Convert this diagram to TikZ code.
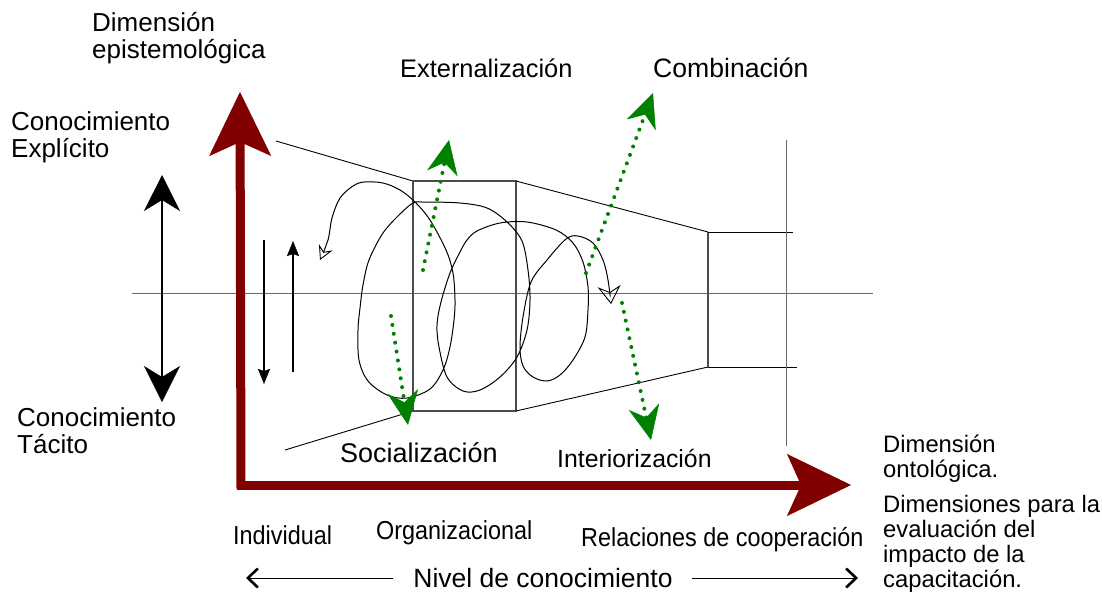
\documentclass[tikz,border=0pt]{standalone}
\usepackage{fontspec}
\setmainfont{Liberation Sans}
\newfontfamily\narrowfnt{Liberation Sans}[FakeStretch=0.9]
\usetikzlibrary{arrows.meta}
\definecolor{darkred}{RGB}{128,0,0}
\definecolor{dgreen}{RGB}{0,128,0}
\definecolor{axisgray}{RGB}{105,105,105}
\begin{document}
\begin{tikzpicture}[x=1pt,y=-1pt,
  redaxis/.style={draw=darkred, line width=9pt, -{Stealth[length=64pt,width=62pt,inset=14pt,line width=0.5pt]}},
  greenflow/.style={draw=dgreen, line width=4pt, line cap=round, dash pattern=on 0pt off 9pt,
     -{Stealth[length=34pt,width=31pt,inset=11pt,line width=0.5pt]}},
  bigdouble/.style={draw=black, line width=2pt, {Stealth[length=36pt,width=36pt,inset=11pt,line width=0.5pt]}-{Stealth[length=36pt,width=36pt,inset=11pt,line width=0.5pt]}},
  smallarrow/.style={draw=black, line width=1.6pt, -{Stealth[length=15pt,width=12pt,inset=2pt,line width=0.5pt]}},
  thinline/.style={draw=black, line width=0.9pt},
  boxline/.style={draw=black!70, line width=1.3pt},
  axisline/.style={draw=axisgray, line width=0.8pt},
  spiral/.style={draw=black, line width=1pt, line join=round,
     {Stealth[open,length=14pt,width=15pt,inset=5pt,line width=0.9pt]}-{Stealth[open,length=18pt,width=23pt,inset=6pt,line width=0.9pt]}},
  levelarrow/.style={draw=black, line width=1pt, -{Straight Barb[length=10pt,width=19pt,line width=2.6pt]}},
  bigtxt/.style={inner sep=0pt, anchor=base west, align=left, font=\fontsize{26}{27}\selectfont},
  midtxt/.style={inner sep=0pt, anchor=base west},
  sidetxt/.style={inner sep=0pt, anchor=base west, align=left, font=\fontsize{23.8}{25}\selectfont},
  nartxt/.style={inner sep=0pt, anchor=base west, font=\narrowfnt\fontsize{26}{27}\selectfont},
]
\useasboundingbox (0,0) rectangle (1102,595);

% coordinates
\coordinate (hl) at (132,293.5);
\coordinate (hr) at (873,293.5);
\coordinate (ul1) at (276,141);
\coordinate (b1tl) at (413,181);
\coordinate (b1tr) at (516,181);
\coordinate (b1bl) at (413,411);
\coordinate (b1br) at (516,411);
\coordinate (ll1) at (285,450);
\coordinate (b2tl) at (708,232);
\coordinate (b2bl) at (708,367);
\coordinate (b2tr) at (793,232);
\coordinate (b2br) at (797,367);
\coordinate (vt) at (786,140);
\coordinate (vb) at (786,446);

% center axis
\draw[axisline] (hl) -- (hr);

% trapezoid / boxes
\draw[thinline] (ul1) -- (b1tl);
\draw[thinline] (ll1) -- (b1bl);
\draw[boxline] (b1tl) rectangle (b1br);
\draw[thinline] (b1tr) -- (b2tl);
\draw[thinline] (b1br) -- (b2bl);
\draw[boxline] (b2tl) -- (b2bl);
\draw[thinline] (b2tl) -- (b2tr);
\draw[thinline] (b2bl) -- (b2br);
\draw[axisline] (vt) -- (vb);

% spiral
\draw[spiral] plot[smooth, tension=0.55] coordinates {
 (320,260) (328,240) (332,218) (340,198) (353,186) (364,182) (383,183) (400,190)
 (415,202) (430,220) (446,250) (453,273) (455,300) (454,320) (450,347) (443,370)
 (430,389) (407,398) (387,395) (368,381) (359,360) (358,330) (360,308) (363,285)
 (369,260) (383,233) (400,214) (413,203) (422,202) (460,203) (487,208) (507,222)
 (522,241) (528,270) (530,300) (527,330) (517,357) (500,377) (480,390) (463,391)
 (447,377) (439,347) (437,325) (441,302) (450,273) (460,252) (467,240) (477,231)
 (500,223) (527,222) (556,230) (573,243) (583,262) (588,287) (588,310) (585,337)
 (573,360) (560,375) (547,381) (533,377) (523,366) (520,347) (523,317) (531,282)
 (547,260) (566,239) (578,236) (593,243) (603,260) (608,280) (611,304) };

% black arrows on the left
\coordinate (dt) at (162,175);
\coordinate (db) at (162,402);
\draw[bigdouble] (db) -- (dt);
\coordinate (s1a) at (264,240);
\coordinate (s1b) at (264,384);
\draw[smallarrow] (s1a) -- (s1b);
\coordinate (s2a) at (293,372);
\coordinate (s2b) at (293,241);
\draw[smallarrow, line width=2pt] (s2a) -- (s2b);

% green flows
\coordinate (e1) at (423,270);
\coordinate (e2) at (449,140);
\draw[greenflow] (e1) -- (e2);
\coordinate (so1) at (391,316);
\coordinate (so2) at (408,425);
\draw[greenflow] (so1) -- (so2);
\coordinate (c1) at (586,273);
\coordinate (c2) at (653,93);
\draw[greenflow] (c1) -- (c2);
\coordinate (i1) at (622,303);
\coordinate (i2) at (651,440);
\draw[greenflow] (i1) -- (i2);

% red axes
\coordinate (yfoot) at (241,489);
\coordinate (ytip) at (240,92);
\coordinate (xfoot) at (237,485);
\coordinate (xtip) at (851,485);
\draw[redaxis] (yfoot) -- (ytip);
\draw[redaxis] (xfoot) -- (xtip);

% labels (base = baseline of last line)
\node[bigtxt] (epist) at (92,58) {Dimensión\\epistemológica};
\node[bigtxt] (explic) at (11,157) {Conocimiento\\Explícito};
\node[bigtxt] (tacit) at (17,453) {Conocimiento\\Tácito};
\node[midtxt, font=\fontsize{25.4}{27}\selectfont] (ext) at (400,77) {Externalización};
\node[midtxt, font=\fontsize{26.6}{27}\selectfont] (comb) at (653,77) {Combinación};
\node[midtxt, font=\fontsize{27}{27}\selectfont] (soc) at (340,462) {Socialización};
\node[midtxt, font=\fontsize{24.8}{27}\selectfont] (inter) at (557,467) {Interiorización};
\node[sidetxt] (onto) at (883,477) {Dimensión\\ontológica.};
\node[sidetxt] (evalu) at (883,587) {Dimensiones para la\\evaluación del\\impacto de la\\capacitación.};
\node[nartxt] (indiv) at (233,544) {Individual};
\node[nartxt] (organ) at (376,539) {Organizacional};
\node[nartxt] (coop) at (581,546) {Relaciones de cooperación};
\node[inner sep=0pt, font=\fontsize{26.5}{27}\selectfont] (nivel) at (543,578) {Nivel de conocimiento};

\coordinate (nl1) at (393,578);
\coordinate (nl2) at (246,578);
\coordinate (nr1) at (692,578);
\coordinate (nr2) at (858,578);
\draw[levelarrow] (nl1) -- (nl2);
\draw[levelarrow] (nr1) -- (nr2);
\end{tikzpicture}
\end{document}
